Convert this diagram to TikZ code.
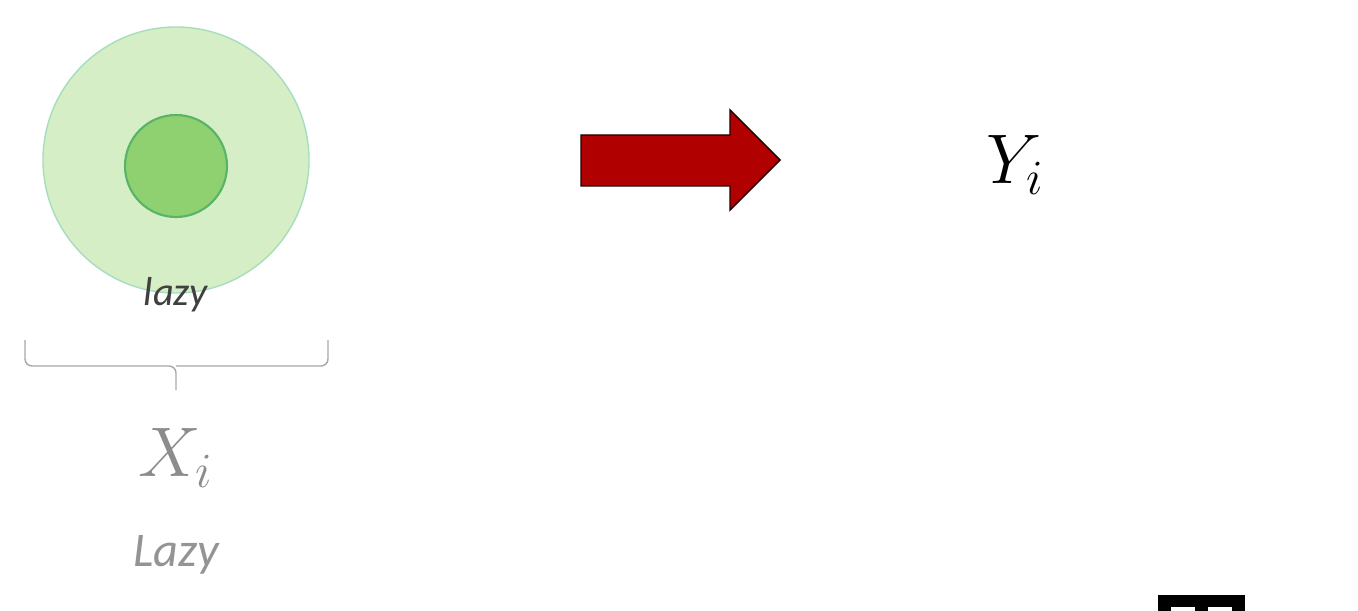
\RequirePackage{fix-cm}
\documentclass[tikz,border=0pt]{standalone}
\usepackage{fontspec}
\newfontfamily\calib{Carlito}
\usetikzlibrary{positioning}
\definecolor{outerfill}{HTML}{D6EEC6}
\definecolor{outerline}{HTML}{A6DDBE}
\definecolor{innerfill}{HTML}{8FD070}
\definecolor{innerline}{HTML}{58B468}
\definecolor{arrowred}{HTML}{B00000}
\definecolor{bracegray}{HTML}{A8A8A8}
\begin{document}
\begin{tikzpicture}[x=0.02cm,y=-0.02cm]
\tikzstyle{outer}=[circle,fill=outerfill,draw=outerline,thick,minimum size=266*0.02cm,inner sep=0pt]
\tikzstyle{inner}=[circle,fill=innerfill,draw=innerline,very thick,minimum size=102*0.02cm,inner sep=0pt]
\tikzstyle{label}=[inner sep=0pt]
\useasboundingbox (0,0) rectangle (1358,611);
\node [outer] (cell) at (176,160) {};
\node [inner] (core) at (176,166) {};
\node [label,text=black!75] (small) at (176,295) {\fontsize{23}{26}\selectfont\calib\itshape lazy};
% brace under the cell
\draw [bracegray,thick,rounded corners=4] (25,340) -- (25,366) -- (176,366) -- (176,390);
\draw [bracegray,thick,rounded corners=4] (328,340) -- (328,366) -- (176,366);
\node [label,text=black!45] (xi) at (176,458) {\fontsize{40}{48}\selectfont$X_i$};
\node [label,text=black!42] (big) at (176,555) {\fontsize{27.5}{32}\selectfont\calib\itshape Lazy};
% red arrow
\filldraw [fill=arrowred,draw=black!80!arrowred,thick] (581,135) -- (730,135) -- (730,110) -- (780,160) -- (730,210) -- (730,186) -- (581,186) -- cycle;
\node [label] (yi) at (1015,165) {\fontsize{40}{48}\selectfont$Y_i$};
% cut-off icon at the bottom
\fill [black] (1158,595) rectangle (1245,611);
\fill [white] (1171,607) rectangle (1195,611);
\fill [white] (1208,607) rectangle (1232,611);
\end{tikzpicture}
\end{document}
